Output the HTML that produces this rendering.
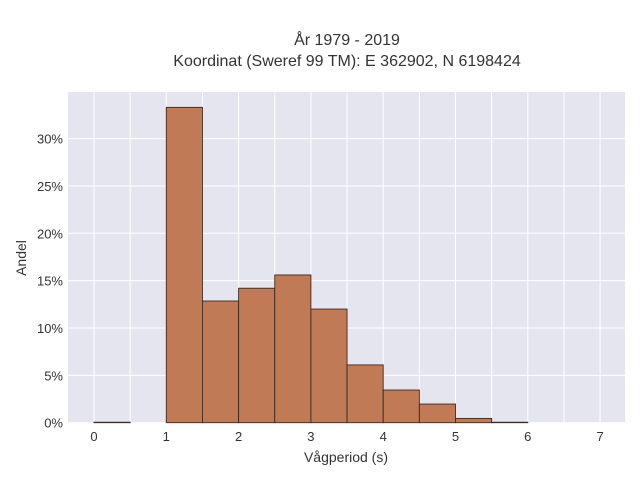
<!DOCTYPE html>
<html><head><meta charset="utf-8"><style>
body{margin:0;background:#fff;}
svg text{font-family:"Liberation Sans",sans-serif;fill:#333;}
</style></head><body>
<svg id="chart" width="640" height="480" xmlns="http://www.w3.org/2000/svg">
<text x="347" y="45" text-anchor="middle" font-size="16">År 1979 - 2019</text>
<text x="347" y="66" text-anchor="middle" font-size="16">Koordinat (Sweref 99 TM): E 362902, N 6198424</text>
<rect x="68" y="92" width="557" height="331" fill="#e5e5f0"/>
<g id="grid"></g>
<g id="bars"></g>
<g id="axes"></g>
<text x="346" y="462" text-anchor="middle" font-size="14">Vågperiod (s)</text>
<text x="26" y="258" text-anchor="middle" font-size="14" transform="rotate(-90 26 258)">Andel</text>
</svg>
<script>
const binStarts=[0,0.5,1,1.5,2,2.5,3,3.5,4,4.5,5,5.5];
const binValues=[0.05,0,33.3,12.85,14.2,15.6,12.0,6.1,3.45,1.97,0.45,0.05];
const xTicks=[0,1,2,3,4,5,6,7];
const yTicks=[0,5,10,15,20,25,30];
const binWidth=0.5;
const NS="http://www.w3.org/2000/svg";
const x=v=>94+v*72.3;
const y=v=>422.7-v*9.47;
const grid=document.getElementById('grid'),bars=document.getElementById('bars'),axes=document.getElementById('axes');
function mk(tag,attrs,parent){const e=document.createElementNS(NS,tag);for(const k in attrs)e.setAttribute(k,attrs[k]);parent.appendChild(e);return e;}
for(let v=0;v<=7;v+=0.5){const l=mk('line',{x1:x(v),x2:x(v),y1:92,y2:423,stroke:'#fff','stroke-width':1},grid);

}
yTicks.forEach(t=>{const l=mk('line',{x1:68,x2:625,y1:y(t),y2:y(t),stroke:'#fff','stroke-width':1},grid);


const tx=mk('text',{x:63,y:y(t)+5,'text-anchor':'end','font-size':13},axes);tx.textContent=t+'%';

});
xTicks.forEach(t=>{const tx=mk('text',{x:x(t),y:441,'text-anchor':'middle','font-size':13},axes);tx.textContent=t;

});
binStarts.forEach((s,i)=>{const v=binValues[i];if(v<=0)return;
const r=mk('rect',{x:x(s),y:y(v),width:x(s+binWidth)-x(s),height:y(0)-y(v),fill:'#c07a56',stroke:'#3a2a22','stroke-width':0.9},bars);

});
</script>
</body></html>
